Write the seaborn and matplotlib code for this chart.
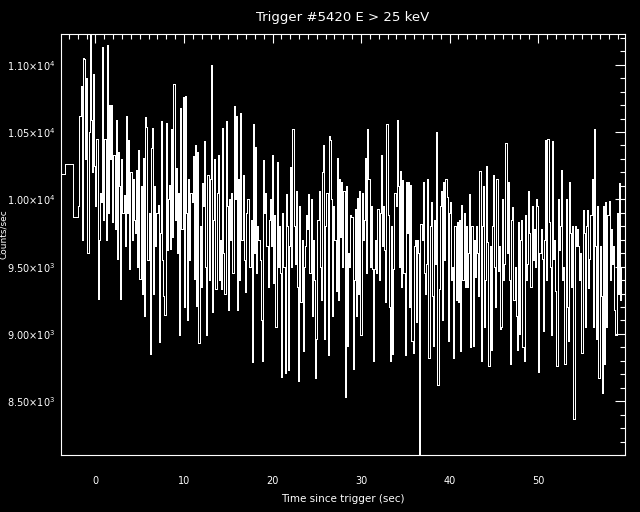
import numpy as np
import pandas as pd
import matplotlib
matplotlib.use('Agg')
import matplotlib.pyplot as plt
import seaborn as sns
from matplotlib.ticker import MultipleLocator, FuncFormatter

# pre-trigger bins (wide)
pre_t = [-3.94, -3.45, -2.51]
pre_rate = [10190, 10260, 9870]

# post-trigger bins, 0.128 s each, starting at -1.94 s
t_start = -1.94
bin_width = 0.128
rate = [
    9950, 10620, 10840, 9700, 11050, 11040, 10300, 10900, 9600, 10500,
    11300, 10590, 10200, 10930, 10250, 9950, 10450, 9260, 9700, 10050,
    9980, 11130, 9850, 10450, 9700, 11150, 9900, 10700, 10300, 10700,
    9830, 10330, 9780, 10590, 9560, 10350, 10100, 9260, 10300, 9900,
    10030, 9650, 10620, 9900, 10440, 9480, 10200, 9700, 10150, 9850,
    9750, 10220, 9500, 10370, 9410, 10100, 9300, 10310, 9130, 10610,
    10540, 9550, 9900, 8850, 10380, 10530, 9300, 10100, 9650, 9900,
    9960, 8940, 9750, 10580, 9550, 9280, 9140, 10570, 9620, 10000,
    10110, 9630, 10520, 9720, 10860, 9850, 10230, 9600, 10050, 8990,
    10680, 9780, 10760, 9200, 10770, 9900, 9100, 10150, 9550, 10050,
    9980, 10320, 9410, 10400, 9210, 10350, 8930, 9800, 9350, 10120,
    9950, 10430, 9500, 8990, 10180, 9400, 10150, 11000, 9160, 9850,
    10300, 9330, 10050, 10330, 9400, 9700, 9330, 10530, 9600, 9300,
    10580, 9950, 9180, 10000, 9700, 10050, 9450, 10690, 10000, 10620,
    9180, 10150, 9400, 10640, 9700, 10180, 9550, 9310, 9900, 10000,
    10000, 9500, 9850, 8790, 10560, 9600, 10390, 9450, 9800, 9700,
    9550, 9100, 8800, 10290, 9900, 10050, 9650, 9350, 9850, 10000,
    9650, 10330, 9380, 9880, 9050, 10280, 9500, 9800, 9450, 8680,
    9900, 9500, 8710, 10040, 9800, 8730, 9650, 10240, 9500, 10520,
    9800, 9520, 10060, 9350, 8650, 9950, 9240, 9700, 8870, 9500,
    9650, 9880, 9780, 10040, 9450, 10000, 9130, 9700, 9400, 8670,
    8960, 9850, 10060, 9500, 9250, 10200, 10400, 8960, 9800, 10050,
    8840, 10470, 10440, 10000, 9130, 9950, 9700, 9320, 10310, 9250,
    10150, 9720, 10130, 9500, 10060, 8530, 10100, 8910, 9600, 9500,
    9880, 9870, 8740, 9400, 9930, 9130, 10010, 9300, 10060, 8990,
    10050, 9700, 9850, 10310, 9450, 10520, 10150, 9500, 9950, 9480,
    8800, 9480, 9700, 9450, 9930, 9400, 9900, 10330, 9650, 9950,
    9620, 9240, 10560, 9880, 9200, 8800, 9800, 8850, 9480, 10050,
    9950, 10590, 10100, 9500, 10210, 9350, 10140, 9450, 8840, 10130,
    9750, 10130, 9200, 10110, 8950, 8860, 9650, 9700, 9090, 9700,
    9600, 8050, 9820, 9700, 10130, 9450, 9300, 9520, 10150, 8820,
    9800, 9980, 9280, 8910, 9850, 9520, 10500, 8620, 9330, 9950,
    10060, 9100, 10130, 9550, 10150, 10020, 8950, 9900, 9980, 9400,
    9500, 8820, 9800, 9250, 9830, 9240, 9850, 8870, 9960, 9400,
    9900, 9350, 9800, 9350, 9600, 10040, 8900, 9800, 8910, 9700,
    9420, 9800, 9600, 9280, 10210, 8800, 9800, 10100, 9050, 9400,
    10250, 9680, 8760, 9650, 8880, 9800, 10180, 9500, 9200, 10150,
    9470, 9650, 9040, 9050, 10000, 9400, 9520, 10420, 9600, 10130,
    9400, 8780, 9850, 9940, 9250, 9500, 9130, 8880, 9830, 9000,
    9700, 9850, 8900, 8800, 9880, 9400, 9520, 10060, 9750, 9350,
    9950, 9550, 9780, 9500, 10000, 9950, 8720, 9600, 9780, 9560,
    9020, 9700, 10440, 9400, 10450, 9830, 9500, 8990, 10430, 9560,
    9700, 9320, 8760, 10000, 9620, 9800, 10220, 9400, 9500, 8780,
    10000, 9200, 8950, 10130, 9750, 9350, 9800, 8370, 9800, 9650,
    9780, 9650, 9400, 9600, 8860, 9920, 9750, 9050, 9800, 9920,
    9340, 9560, 9880, 10150, 9050, 10520, 9650, 8960, 9950, 8670,
    9650, 9280, 8560, 9950, 8780, 9980, 9050, 9880, 9990, 9400,
    9780, 9520, 9650, 9180, 8990, 9900, 9300, 10120, 9250, 9500,
]

post_t = [t_start + i * bin_width for i in range(len(rate))]
t_end = post_t[-1] + bin_width

df = pd.DataFrame({
    'time': pre_t + post_t + [t_end],
    'rate': pre_rate + rate + [rate[-1]],
})

sns.set_style('dark')
plt.rcParams['font.family'] = ['DejaVu Sans']
plt.rcParams['mathtext.default'] = 'regular'

fig = plt.figure(figsize=(6.4, 5.12), dpi=100, facecolor='black')
ax = fig.add_axes([0.0947, 0.1113, 0.882, 0.8227])
ax.set_facecolor('black')

sns.lineplot(data=df, x='time', y='rate', ax=ax, estimator=None, sort=False,
             drawstyle='steps-post', color='white', linewidth=0.72,
             antialiased=False)

ax.set_xlim(-3.94, 59.83)
ax.set_ylim(8100, 11230)

ax.xaxis.set_major_locator(MultipleLocator(10))
ax.xaxis.set_minor_locator(MultipleLocator(1))
ax.yaxis.set_major_locator(MultipleLocator(500))
ax.yaxis.set_minor_locator(MultipleLocator(100))


def sci_fmt(v, pos):
    e = int(np.floor(np.log10(v)))
    return '%.2f×10$^{%d}$' % (v / 10 ** e, e)


ax.yaxis.set_major_formatter(FuncFormatter(sci_fmt))

ax.tick_params(which='both', direction='in', colors='white', top=True,
               right=True, labelsize=7, width=0.8)
ax.tick_params(axis='y', which='major', length=7.5, pad=4)
ax.tick_params(axis='y', which='minor', length=3.6)
ax.tick_params(axis='x', which='major', length=6.3, pad=15)
ax.tick_params(axis='x', which='minor', length=3.6)
for s in ax.spines.values():
    s.set_color('white')
    s.set_linewidth(0.8)
ax.grid(False)

ax.set_title('Trigger #5420 E > 25 keV', color='white', fontsize=9.5, pad=9)
ax.set_xlabel('Time since trigger (sec)', color='white', fontsize=7.5,
              labelpad=6)
ax.set_ylabel('Counts/sec', color='white', fontsize=6.5)
ax.yaxis.set_label_coords(-0.093, 0.525)

fig.savefig('out.png', dpi=100, facecolor='black')
